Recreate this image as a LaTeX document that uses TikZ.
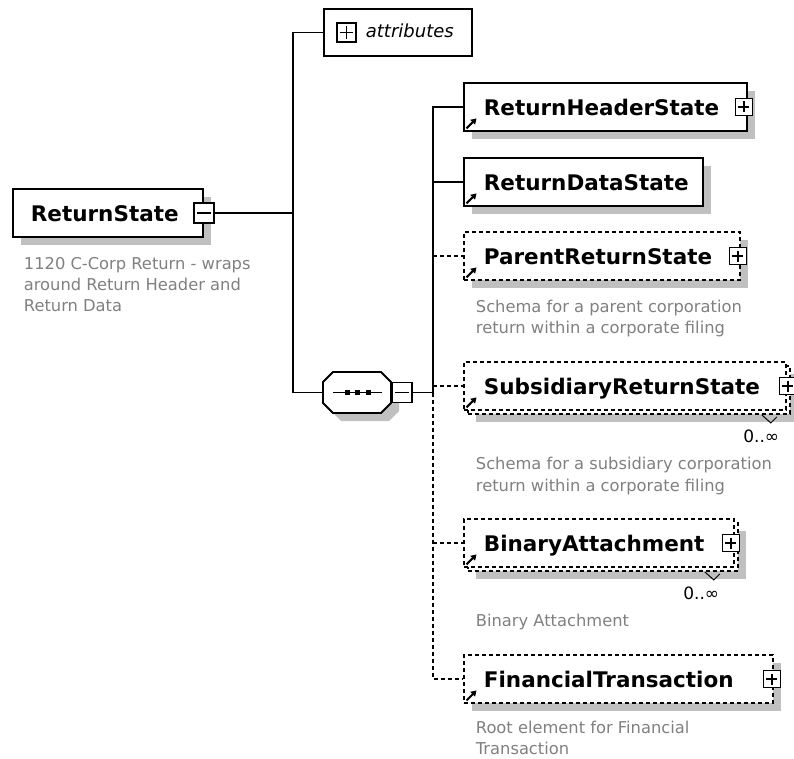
\documentclass[tikz,border=0pt]{standalone}
\usepackage{fontspec}
\setmainfont{DejaVu Sans}
\usetikzlibrary{shadows,arrows.meta}
\definecolor{shadowgray}{RGB}{192,192,192}
\definecolor{descgray}{RGB}{128,128,128}
\newcommand\namefont{\fontsize{21.5}{24}\selectfont\bfseries}
\newcommand\descfont{\fontsize{16.3}{20}\selectfont}
\newcommand\multfont{\fontsize{17}{20}\selectfont}
\begin{document}
\begin{tikzpicture}[x=1pt,y=-1pt,
 line width=1.8pt,
 elbox/.style={draw, fill=white, line width=1.8pt, minimum height=48pt, inner xsep=20pt, inner ysep=0pt, anchor=west, align=left, font=\namefont, text height=17pt, text depth=0pt},
 shad/.style={drop shadow={shadow xshift=8pt, shadow yshift=-8pt, opacity=1, fill=shadowgray}},
 opt/.style={dash pattern=on 4pt off 3pt},
 pmbox/.style={draw, fill=white, line width=1.4pt, minimum size=#1, inner sep=0pt},
 plusbox/.style={pmbox=#1, path picture={\draw[line width=1.4pt] ([xshift=3pt]path picture bounding box.west) -- ([xshift=-3pt]path picture bounding box.east) ([yshift=-3pt]path picture bounding box.north) -- ([yshift=3pt]path picture bounding box.south);}},
 minusbox/.style={pmbox=#1, path picture={\draw[line width=1.4pt] ([xshift=3pt]path picture bounding box.west) -- ([xshift=-3pt]path picture bounding box.east);}},
 desc/.style={anchor=base west, inner sep=0pt, font=\descfont, text=descgray},
 mult/.style={anchor=base east, inner sep=0pt, font=\multfont},
 icon/.style={line width=2pt, -{Triangle[length=5.5pt,width=6.5pt]}},
 conn/.style={line width=1.8pt},
 tick/.style={line width=1pt},
]
\useasboundingbox (0,0) rectangle (794,759);

% root element
\node[elbox, shad, minimum width=190pt, text width=154pt, inner xsep=18pt] (rs) at (12,213) {ReturnState};
\node[minusbox=20pt] (rsm) at (rs.east) {};
\node[desc] (rsd1) at (23,269) {1120 C-Corp Return - wraps};
\node[desc] (rsd2) at (23,290) {around Return Header and};
\node[desc] (rsd3) at (23,311) {Return Data};

% attributes
\node[draw, fill=white, line width=1.8pt, minimum width=148pt, minimum height=47pt, anchor=west, inner sep=0pt] (attr) at (323,32.5) {};
\node[plusbox=19pt] (attrp) at (346.5,32.5) {};
\node[anchor=base west, inner sep=0pt, font=\fontsize{18}{20}\selectfont\itshape] (attrt) at (365,38) {attributes};

% sequence compositor
\node[minimum width=68pt, minimum height=41pt, inner sep=0pt] (seq) at (357,392.5) {};
\begin{scope}[shift={(seq.center)}]
 \fill[shadowgray, shift={(8,8)}] (-24,-20.5) -- (24,-20.5) -- (34,-10.5) -- (34,10.5) -- (24,20.5) -- (-24,20.5) -- (-34,10.5) -- (-34,-10.5) -- cycle;
 \filldraw[fill=white, line width=1.8pt] (-24,-20.5) -- (24,-20.5) -- (34,-10.5) -- (34,10.5) -- (24,20.5) -- (-24,20.5) -- (-34,10.5) -- (-34,-10.5) -- cycle;
 \draw[line width=1.6pt] (-24,0) -- (25,0);
 \fill (-12.5,-2.5) rectangle ++(5,5);
 \fill (-2.5,-2.5) rectangle ++(5,5);
 \fill (8.5,-2.5) rectangle ++(5,5);
\end{scope}
\node[minusbox=20pt] (seqm) at (402,392.5) {};

% children
\node[elbox, shad, minimum width=283pt, text width=243pt] (rh) at (463,107) {ReturnHeaderState};
\node[plusbox=17pt] (rhp) at ([xshift=-4pt]rh.east) {};
\node[elbox, shad, minimum width=239pt, text width=199pt] (rd) at (463,182) {ReturnDataState};
\node[elbox, opt, shad, minimum width=276pt, text width=236pt] (pr) at (463,256) {ParentReturnState};
\node[plusbox=17pt] (prp) at ([xshift=-3pt]pr.east) {};
\node[desc] (prd1) at (475,312) {Schema for a parent corporation};
\node[desc] (prd2) at (475,333) {return within a corporate filing};

\node[elbox, opt, shad, minimum width=322pt] (srb) at (467,390) {};
\node[elbox, opt, minimum width=322pt, text width=282pt] (sr) at (463,386) {SubsidiaryReturnState};
\node[plusbox=17pt] (srp) at ([xshift=1pt]sr.east) {};
\draw[tick] ([shift={(-29,0)}]srb.south east) -- ++(9,8) -- ++(6,-6);
\node[mult] (srm) at (780,442) {0..∞};
\node[desc] (srd1) at (475,469) {Schema for a subsidiary corporation};
\node[desc] (srd2) at (475,491) {return within a corporate filing};

\node[elbox, opt, shad, minimum width=270pt] (bab) at (467,547) {};
\node[elbox, opt, minimum width=270pt, text width=230pt] (ba) at (463,543) {BinaryAttachment};
\node[plusbox=17pt] (bap) at ([xshift=-4pt]ba.east) {};
\draw[tick] ([shift={(-34,0)}]bab.south east) -- ++(9,8) -- ++(6,-6);
\node[mult] (bam) at (720,599) {0..∞};
\node[desc] (bad1) at (475,626) {Binary Attachment};

\node[elbox, opt, shad, minimum width=309pt, text width=269pt] (ft) at (463,679) {FinancialTransaction};
\node[plusbox=17pt] (ftp) at ([xshift=-2pt]ft.east) {};
\node[desc] (ftd1) at (475,733) {Root element for Financial};
\node[desc] (ftd2) at (475,754) {Transaction};

% reference icons
\foreach \n in {rh,rd,pr,sr,ba,ft}{
 \draw[icon] ([shift={(3.5,-3.5)}]\n.south west) -- ++(10,-10);
}

% connectors
\coordinate (tA) at (293,32.5);
\coordinate (tB) at (293,392.5);
\coordinate (cA) at (433,107);
\coordinate (cM) at (433,392.5);
\coordinate (cB) at (433,679);
\draw[conn] (rsm.east) -- (rsm.east -| tA);
\draw[conn] (attr.west) -- (tA) -- (tB) -- (seq.west);
\draw[conn] (seqm.east) -- (cM);
\draw[conn] (rh.west) -- (cA) -- (cM);
\draw[conn, opt] (cM) -- (cB) -- (ft.west);
\draw[conn] (rd.west -| cA) -- (rd.west);
\draw[conn, opt] (pr.west -| cA) -- (pr.west);
\draw[conn, opt] (sr.west -| cA) -- (sr.west);
\draw[conn, opt] (ba.west -| cA) -- (ba.west);
\end{tikzpicture}
\end{document}
